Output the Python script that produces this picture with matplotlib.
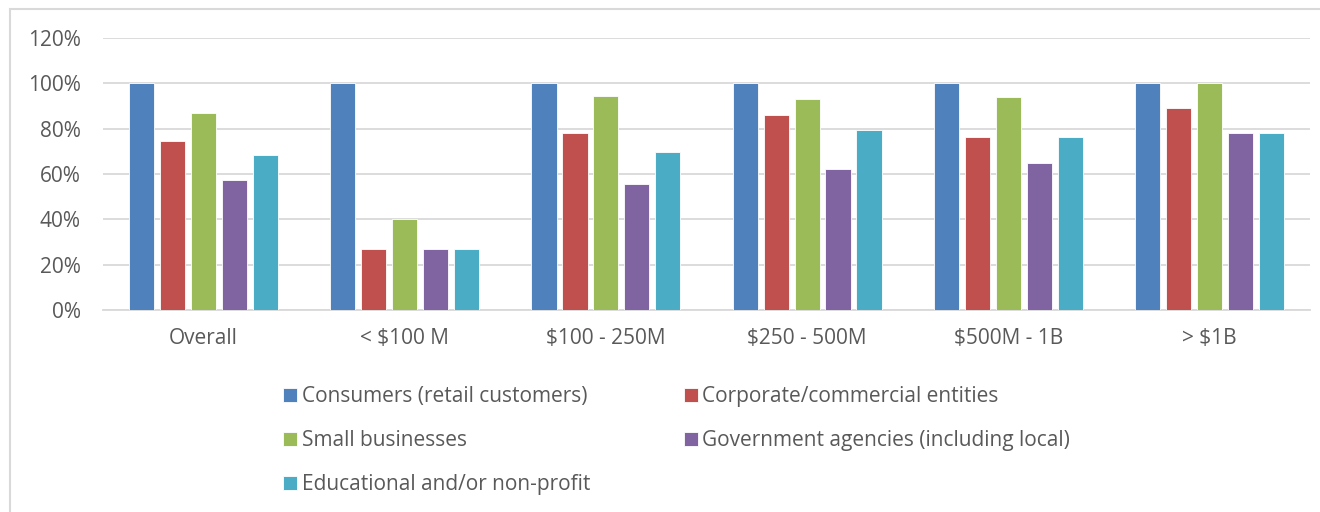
import numpy as np
import matplotlib.pyplot as plt
from matplotlib.patches import Rectangle

plt.rcParams['font.family'] = ['Open Sans', 'DejaVu Sans']

categories = ['Overall', '< $100 M', '$100 - 250M', '$250 - 500M', '$500M - 1B', '> $1B']
series_names = ['Consumers (retail customers)', 'Corporate/commercial entities',
                'Small businesses', 'Government agencies (including local)',
                'Educational and/or non-profit']
consumers = [100, 100, 100, 100, 100, 100]
corporate = [74.5, 26.7, 77.9, 86.2, 76.4, 88.9]
small_biz = [87.0, 40.0, 94.4, 93.2, 94.1, 100]
government = [57.3, 26.7, 55.5, 62.1, 64.8, 77.9]
educational = [68.3, 26.7, 69.5, 79.2, 76.4, 77.9]
yticks = [0, 20, 40, 60, 80, 100, 120]

colors = ['#4F81BD', '#C0504D', '#9BBB59', '#8064A2', '#4BACC6']
txt = '#595959'
fs = 15

fig = plt.figure(figsize=(13.2, 5.12), dpi=100)
ax = fig.add_axes([103/1320, 1-310/512, (1310-103)/1320, (310-38)/512])

x = np.arange(len(categories))
width = 0.125
step = 0.154
bars = []
for i, vals in enumerate([consumers, corporate, small_biz, government, educational]):
    b = ax.bar(x + (i - 2) * step, vals, width, color=colors[i],
               edgecolor='white', linewidth=0.6, zorder=3, label=series_names[i])
    bars.append(b)

ax.set_xlim(-0.5, len(categories) - 0.5)
ax.set_ylim(0, 120)
ax.set_yticks(yticks)
ax.set_yticklabels([f'{t}%' for t in yticks])
ax.set_xticks(x)
ax.set_xticklabels(categories)
ax.grid(axis='y', color='#d9d9d9', linewidth=1.3, zorder=0)
for s in ['top', 'right', 'left']:
    ax.spines[s].set_visible(False)
ax.spines['bottom'].set_color('#d9d9d9')
ax.spines['bottom'].set_linewidth(1.3)
ax.tick_params(length=0, labelsize=fs, colors=txt)
ax.tick_params(axis='y', pad=16)
ax.tick_params(axis='x', pad=13)

order = [0, 2, 4, 1, 3]
fig.legend([bars[i] for i in order], [series_names[i] for i in order],
           loc='upper left', bbox_to_anchor=(273/1320, 1-376/512), ncol=2,
           frameon=False, fontsize=fs, labelcolor=txt, handlelength=0.67,
           handleheight=0.67, handletextpad=0.2, labelspacing=1.1,
           columnspacing=4.5, borderpad=0)

fig.patches.append(Rectangle((10/1320, -0.1), 1.2, 1.1 - 9/512,
                             transform=fig.transFigure, fill=False,
                             edgecolor='#d9d9d9', linewidth=1.5))

plt.savefig('out.png', dpi=100)
